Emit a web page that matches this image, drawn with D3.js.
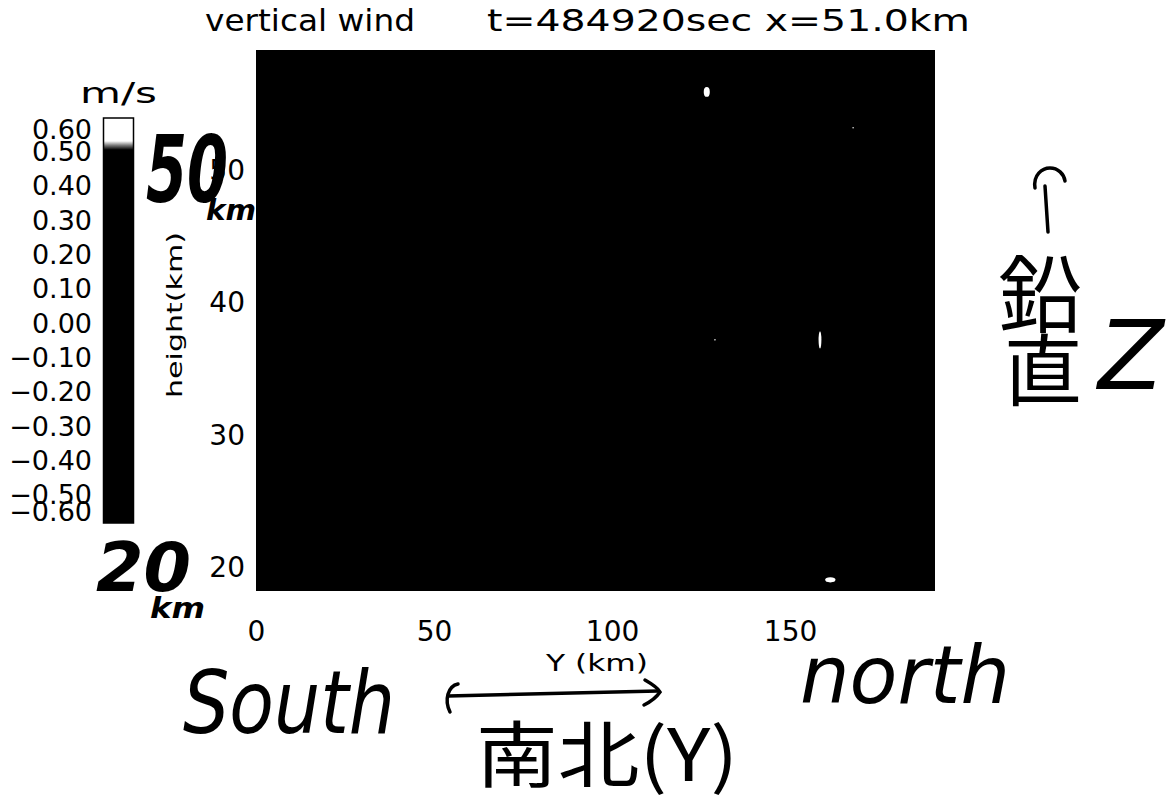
<!DOCTYPE html>
<html>
<head>
<meta charset="utf-8">
<script src="https://cdn.jsdelivr.net/npm/d3@7"></script>
<style>
  body { margin: 0; background: #fff; }
  text { font-family: "DejaVu Sans", sans-serif; fill: #000; }
  .hand { font-family: "DejaVu Sans", sans-serif; font-style: oblique; font-weight: 200; }
  .marker { font-family: "DejaVu Sans", sans-serif; font-style: oblique; font-weight: bold; }
  .cjk { font-family: "Noto Sans CJK JP", sans-serif; }
</style>
</head>
<body>
<div id="chart"></div>
<script>
// chart values
const titleLeft = "vertical wind";
const titleRight = "t=484920sec x=51.0km";
const unitLabel = "m/s";
const xLabel = "Y (km)";
const yLabel = "height(km)";
const xDomain = [0, 190.7];
const yDomain = [18.26, 59.06];
const xTicks = [0, 50, 100, 150];
const yTicks = [20, 30, 40, 50];
const cbTicks = [0.6, 0.5, 0.4, 0.3, 0.2, 0.1, 0, -0.1, -0.2, -0.3, -0.4, -0.5, -0.6];
const cbStops = [-0.66, 0.51, 0.53, 0.55, 0.66];
const cbColors = ["#000", "#000", "#777", "#fff", "#fff"];
// cells where w exceeds the top level (drawn white): centre Y, centre z, width, height (km)
const spotY = [126.6, 158.4, 161.3, 167.7, 128.9];
const spotZ = [55.9, 37.2, 19.1, 53.2, 37.2];
const spotW = [1.7, 0.8, 2.9, 0.4, 0.4];
const spotH = [0.75, 1.3, 0.38, 0.12, 0.12];
// handwritten notes
const noteSouth = "South";
const noteNorth = "north";
const noteNS = "南北(Y)";
const noteVert = ["鉛", "直"];
const noteZ = "Z";
const note50 = "50";
const note20 = "20";
const noteKm = "km";

const W = 1175, H = 802;
const svg = d3.select("#chart").append("svg").attr("width", W).attr("height", H);

// title
svg.append("text").attr("x", 205).attr("y", 31).attr("font-size", 31)
   .attr("textLength", 210).attr("lengthAdjust", "spacingAndGlyphs").text(titleLeft);
svg.append("text").attr("x", 487).attr("y", 31).attr("font-size", 31)
   .attr("textLength", 483).attr("lengthAdjust", "spacingAndGlyphs").text(titleRight);

// main plot
const x = d3.scaleLinear().domain(xDomain).range([256, 935]);
const y = d3.scaleLinear().domain(yDomain).range([591, 50]);

svg.append("rect").attr("x", x(xDomain[0])).attr("y", y(yDomain[1]))
   .attr("width", x(xDomain[1]) - x(xDomain[0])).attr("height", y(yDomain[0]) - y(yDomain[1]))
   .attr("fill", "#000");

const cells = spotY.map((v, i) => ({ y: v, z: spotZ[i], w: spotW[i], h: spotH[i] }));
svg.append("g").selectAll("ellipse").data(cells).enter().append("ellipse")
   .attr("cx", d => x(d.y)).attr("cy", d => y(d.z))
   .attr("rx", d => (x(d.w) - x(0)) / 2).attr("ry", d => (y(0) - y(d.h)) / 2)
   .attr("fill", "#fff");

const xAxis = svg.append("g").attr("transform", `translate(0,${y(yDomain[0])})`)
   .call(d3.axisBottom(x).tickValues(xTicks).tickSize(0).tickPadding(30));
xAxis.select(".domain").remove();
xAxis.selectAll("text").attr("font-size", 28).attr("font-family", "DejaVu Sans");

const yAxis = svg.append("g").attr("transform", `translate(${x(xDomain[0])},0)`)
   .call(d3.axisLeft(y).tickValues(yTicks).tickSize(0).tickPadding(11));
yAxis.select(".domain").remove();
yAxis.selectAll("text").attr("font-size", 28).attr("font-family", "DejaVu Sans");

svg.append("text").attr("x", 597).attr("y", 671).attr("text-anchor", "middle")
   .attr("font-size", 23).attr("textLength", 102).attr("lengthAdjust", "spacingAndGlyphs").text(xLabel);
svg.append("text").attr("transform", "translate(182,315) rotate(-90)").attr("text-anchor", "middle")
   .attr("font-size", 22).attr("textLength", 166).attr("lengthAdjust", "spacingAndGlyphs").text(yLabel);

// colour bar
const cb = d3.scaleLinear()
   .domain([-0.66, -0.6, -0.5, 0.5, 0.6, 0.66])
   .range([523, 512, 495, 152, 130, 118]);
const grad = svg.append("defs").append("linearGradient").attr("id", "cbgrad")
   .attr("x1", 0).attr("x2", 0).attr("y1", 1).attr("y2", 0);
cbStops.forEach((s, i) => {
  grad.append("stop")
      .attr("offset", (cb(-0.66) - cb(s)) / (cb(-0.66) - cb(0.66)))
      .attr("stop-color", cbColors[i]);
});
svg.append("rect").attr("x", 103.5).attr("y", cb(0.66)).attr("width", 30)
   .attr("height", cb(-0.66) - cb(0.66)).attr("fill", "url(#cbgrad)")
   .attr("stroke", "#000").attr("stroke-width", 1.5);

const cbAxis = svg.append("g").attr("transform", "translate(103,0)")
   .call(d3.axisLeft(cb).tickValues(cbTicks).tickFormat(d3.format(".2f")).tickSize(0).tickPadding(11));
cbAxis.select(".domain").remove();
cbAxis.selectAll("text").attr("font-size", 27).attr("font-family", "DejaVu Sans");

svg.append("text").attr("x", 80).attr("y", 103).attr("font-size", 28)
   .attr("textLength", 77).attr("lengthAdjust", "spacingAndGlyphs").text(unitLabel);

// handwritten notes
const hand = svg.append("g");
hand.append("text").attr("class", "marker").attr("x", 146).attr("y", 202).attr("font-size", 92)
   .attr("textLength", 82).attr("lengthAdjust", "spacingAndGlyphs").text(note50);
hand.append("text").attr("class", "marker").attr("x", 206).attr("y", 220).attr("font-size", 28)
   .attr("textLength", 50).attr("lengthAdjust", "spacingAndGlyphs").text(noteKm);
hand.append("text").attr("class", "marker").attr("x", 96).attr("y", 591).attr("font-size", 68)
   .attr("textLength", 95).attr("lengthAdjust", "spacingAndGlyphs").text(note20);
hand.append("text").attr("class", "marker").attr("x", 150).attr("y", 618).attr("font-size", 28)
   .attr("textLength", 55).attr("lengthAdjust", "spacingAndGlyphs").text(noteKm);

hand.append("text").attr("class", "hand").attr("x", 183).attr("y", 733).attr("font-size", 88)
   .attr("textLength", 212).attr("lengthAdjust", "spacingAndGlyphs").text(noteSouth);
hand.append("text").attr("class", "hand").attr("x", 800).attr("y", 703).attr("font-size", 80)
   .attr("textLength", 210).attr("lengthAdjust", "spacingAndGlyphs").text(noteNorth);
hand.append("text").attr("class", "cjk").attr("x", 476).attr("y", 781).attr("font-size", 72)
   .attr("textLength", 262).attr("lengthAdjust", "spacingAndGlyphs").text(noteNS);
hand.append("text").attr("class", "cjk").attr("x", 998).attr("y", 326).attr("font-size", 84).text(noteVert[0]);
hand.append("text").attr("class", "cjk").attr("x", 1004).attr("y", 400).attr("font-size", 78).text(noteVert[1]);
hand.append("text").attr("class", "hand").attr("x", 1098).attr("y", 389).attr("font-size", 96).text(noteZ);

const pen = hand.append("g").attr("fill", "none").attr("stroke", "#000")
   .attr("stroke-width", 3.5).attr("stroke-linecap", "round");
// vertical arrow
pen.append("path").attr("d", "M1048,232 L1045,186");
pen.append("path").attr("d", "M1035,188 C1033,175 1042,168 1050,168 C1058,168 1064,174 1065,181");
// south-north arrow
pen.append("path").attr("d", "M448,696 L658,691");
pen.append("path").attr("d", "M458,684 C448,686 444,700 450,712");
pen.append("path").attr("d", "M645,680 C652,684 658,688 660,692 C656,698 650,702 644,705");
</script>
</body>
</html>
